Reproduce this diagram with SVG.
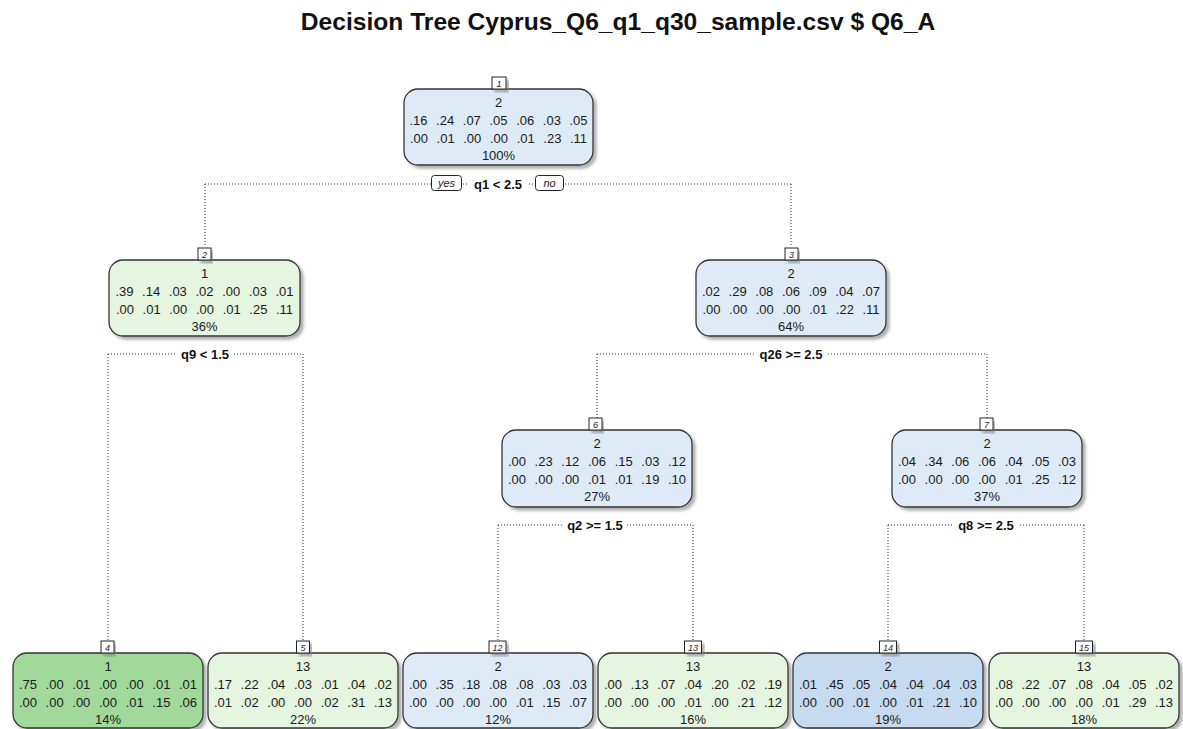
<svg xmlns="http://www.w3.org/2000/svg" width="1183" height="729" viewBox="0 0 1183 729">
  <defs>
    <filter id="shadow" x="-10%" y="-20%" width="125%" height="150%">
      <feDropShadow dx="3" dy="3" stdDeviation="1.6" flood-color="#7a7a7a" flood-opacity="0.6"/>
    </filter>
  </defs>
  <style>
    .title { font-family: "Liberation Sans", Arial, sans-serif; font-weight: bold; font-size: 24.6px; fill: #111; }
    .box { stroke: #333; stroke-width: 1.3; filter: url(#shadow); }
    .blue1 { fill: #deebf7; }
    .blue2 { fill: #c6dbef; }
    .green1 { fill: #e5f5e0; }
    .green2 { fill: #a1d99b; }
    .txt { font-family: "Liberation Sans", Arial, sans-serif; font-size: 13px; fill: #1a1a1a; text-anchor: middle; word-spacing: 5px; }
    .num { fill: #fff; stroke: #222; stroke-width: 1; filter: url(#shadow); }
    .numtxt { font-family: "Liberation Sans", Arial, sans-serif; font-size: 9px; font-style: italic; fill: #222; text-anchor: middle; }
    .edge { fill: none; stroke: #333; stroke-width: 1; stroke-dasharray: 1 2; }
    .split { font-family: "Liberation Sans", Arial, sans-serif; font-size: 13px; font-weight: bold; fill: #111; text-anchor: middle; }
    .lblbg { fill: #fff; }
    .yn { fill: #fff; stroke: #222; stroke-width: 1; }
    .yntxt { font-family: "Liberation Sans", Arial, sans-serif; font-size: 11px; font-style: italic; fill: #222; text-anchor: middle; }
  </style>

  <rect width="1183" height="729" fill="#fff"/>
  <text class="title" x="618" y="30" text-anchor="middle">Decision Tree Cyprus_Q6_q1_q30_sample.csv $ Q6_A</text>

  <!-- connectors: dotted split lines and drops to child label boxes -->
  <g id="connectors">
    <path class="edge" d="M205,184 H791 M205,184 V247 M791,184 V247"/>
    <path class="edge" d="M108,354 H303 M108,354 V641 M303,354 V641"/>
    <path class="edge" d="M597,354 H987 M597,354 V418 M987,354 V418"/>
    <path class="edge" d="M498,525 H693 M498,525 V641 M693,525 V641"/>
    <path class="edge" d="M888,525 H1084 M888,525 V641 M1084,525 V641"/>
  </g>

  <!-- split labels -->
  <g id="splits">
    <rect class="lblbg" x="469" y="176" width="58" height="16"/>
    <text class="split" x="498" y="188.5">q1 &lt; 2.5</text>
    <rect class="yn" x="431.5" y="175.5" width="30" height="15" rx="3"/>
    <text class="yntxt" x="446.5" y="187">yes</text>
    <rect class="yn" x="535.5" y="175.5" width="28" height="15" rx="3"/>
    <text class="yntxt" x="549.5" y="187">no</text>

    <rect class="lblbg" x="176" y="346" width="58" height="16"/>
    <text class="split" x="205" y="358.5">q9 &lt; 1.5</text>

    <rect class="lblbg" x="755" y="346" width="72" height="16"/>
    <text class="split" x="791" y="358.5">q26 &gt;= 2.5</text>

    <rect class="lblbg" x="563" y="517" width="64" height="16"/>
    <text class="split" x="595" y="529.5">q2 &gt;= 1.5</text>

    <rect class="lblbg" x="954" y="517" width="64" height="16"/>
    <text class="split" x="986" y="529.5">q8 &gt;= 2.5</text>
  </g>

  <!-- node 1 -->
  <g id="node1">
    <rect class="box blue1" x="404" y="89" width="189" height="76" rx="14"/>
    <rect class="num" x="492" y="77" width="14" height="12"/>
    <text class="numtxt" x="499" y="86.5">1</text>
    <text class="txt" x="498.5" y="107">2</text>
    <text class="txt" x="498.5" y="125">.16 .24 .07 .05 .06 .03 .05</text>
    <text class="txt" x="498.5" y="142.5">.00 .01 .00 .00 .01 .23 .11</text>
    <text class="txt" x="498.5" y="160">100%</text>
  </g>

  <!-- node 2 -->
  <g id="node2">
    <rect class="box green1" x="109" y="260" width="191" height="76" rx="14"/>
    <rect class="num" x="198" y="248" width="13" height="12"/>
    <text class="numtxt" x="204.5" y="257.5">2</text>
    <text class="txt" x="204.5" y="278">1</text>
    <text class="txt" x="204.5" y="296">.39 .14 .03 .02 .00 .03 .01</text>
    <text class="txt" x="204.5" y="313.5">.00 .01 .00 .00 .01 .25 .11</text>
    <text class="txt" x="204.5" y="331">36%</text>
  </g>

  <!-- node 3 -->
  <g id="node3">
    <rect class="box blue1" x="696" y="260" width="190" height="76" rx="14"/>
    <rect class="num" x="785" y="248" width="13" height="12"/>
    <text class="numtxt" x="791.5" y="257.5">3</text>
    <text class="txt" x="791" y="278">2</text>
    <text class="txt" x="791" y="296">.02 .29 .08 .06 .09 .04 .07</text>
    <text class="txt" x="791" y="313.5">.00 .00 .00 .00 .01 .22 .11</text>
    <text class="txt" x="791" y="331">64%</text>
  </g>

  <!-- node 6 -->
  <g id="node6">
    <rect class="box blue1" x="502" y="430" width="190" height="77" rx="14"/>
    <rect class="num" x="589" y="418" width="13" height="12"/>
    <text class="numtxt" x="595.5" y="427.5">6</text>
    <text class="txt" x="597" y="448">2</text>
    <text class="txt" x="597" y="466">.00 .23 .12 .06 .15 .03 .12</text>
    <text class="txt" x="597" y="483.5">.00 .00 .00 .01 .01 .19 .10</text>
    <text class="txt" x="597" y="501">27%</text>
  </g>

  <!-- node 7 -->
  <g id="node7">
    <rect class="box blue1" x="892" y="430" width="190" height="77" rx="14"/>
    <rect class="num" x="980" y="418" width="13" height="12"/>
    <text class="numtxt" x="986.5" y="427.5">7</text>
    <text class="txt" x="987" y="448">2</text>
    <text class="txt" x="987" y="466">.04 .34 .06 .06 .04 .05 .03</text>
    <text class="txt" x="987" y="483.5">.00 .00 .00 .00 .01 .25 .12</text>
    <text class="txt" x="987" y="501">37%</text>
  </g>

  <!-- leaf 4 -->
  <g id="node4">
    <rect class="box green2" x="13" y="653" width="190" height="75" rx="14"/>
    <rect class="num" x="101" y="641" width="13" height="12"/>
    <text class="numtxt" x="107.5" y="650.5">4</text>
    <text class="txt" x="108" y="671">1</text>
    <text class="txt" x="108" y="689">.75 .00 .01 .00 .00 .01 .01</text>
    <text class="txt" x="108" y="706.5">.00 .00 .00 .00 .01 .15 .06</text>
    <text class="txt" x="108" y="724">14%</text>
  </g>

  <!-- leaf 5 -->
  <g id="node5">
    <rect class="box green1" x="208" y="653" width="190" height="75" rx="14"/>
    <rect class="num" x="296.5" y="641" width="13" height="12"/>
    <text class="numtxt" x="303" y="650.5">5</text>
    <text class="txt" x="303" y="671">13</text>
    <text class="txt" x="303" y="689">.17 .22 .04 .03 .01 .04 .02</text>
    <text class="txt" x="303" y="706.5">.01 .02 .00 .00 .02 .31 .13</text>
    <text class="txt" x="303" y="724">22%</text>
  </g>

  <!-- leaf 12 -->
  <g id="node12">
    <rect class="box blue1" x="403" y="653" width="190" height="75" rx="14"/>
    <rect class="num" x="489" y="641" width="17" height="12"/>
    <text class="numtxt" x="497.5" y="650.5">12</text>
    <text class="txt" x="498" y="671">2</text>
    <text class="txt" x="498" y="689">.00 .35 .18 .08 .08 .03 .03</text>
    <text class="txt" x="498" y="706.5">.00 .00 .00 .00 .01 .15 .07</text>
    <text class="txt" x="498" y="724">12%</text>
  </g>

  <!-- leaf 13 -->
  <g id="node13">
    <rect class="box green1" x="598" y="653" width="190" height="75" rx="14"/>
    <rect class="num" x="684.5" y="641" width="17" height="12"/>
    <text class="numtxt" x="693" y="650.5">13</text>
    <text class="txt" x="693" y="671">13</text>
    <text class="txt" x="693" y="689">.00 .13 .07 .04 .20 .02 .19</text>
    <text class="txt" x="693" y="706.5">.00 .00 .00 .01 .00 .21 .12</text>
    <text class="txt" x="693" y="724">16%</text>
  </g>

  <!-- leaf 14 -->
  <g id="node14">
    <rect class="box blue2" x="793" y="653" width="190" height="75" rx="14"/>
    <rect class="num" x="879.5" y="641" width="17" height="12"/>
    <text class="numtxt" x="888" y="650.5">14</text>
    <text class="txt" x="888" y="671">2</text>
    <text class="txt" x="888" y="689">.01 .45 .05 .04 .04 .04 .03</text>
    <text class="txt" x="888" y="706.5">.00 .00 .01 .00 .01 .21 .10</text>
    <text class="txt" x="888" y="724">19%</text>
  </g>

  <!-- leaf 15 -->
  <g id="node15">
    <rect class="box green1" x="989" y="653" width="190" height="75" rx="14"/>
    <rect class="num" x="1075.5" y="641" width="17" height="12"/>
    <text class="numtxt" x="1084" y="650.5">15</text>
    <text class="txt" x="1084" y="671">13</text>
    <text class="txt" x="1084" y="689">.08 .22 .07 .08 .04 .05 .02</text>
    <text class="txt" x="1084" y="706.5">.00 .00 .00 .00 .01 .29 .13</text>
    <text class="txt" x="1084" y="724">18%</text>
  </g>
</svg>
